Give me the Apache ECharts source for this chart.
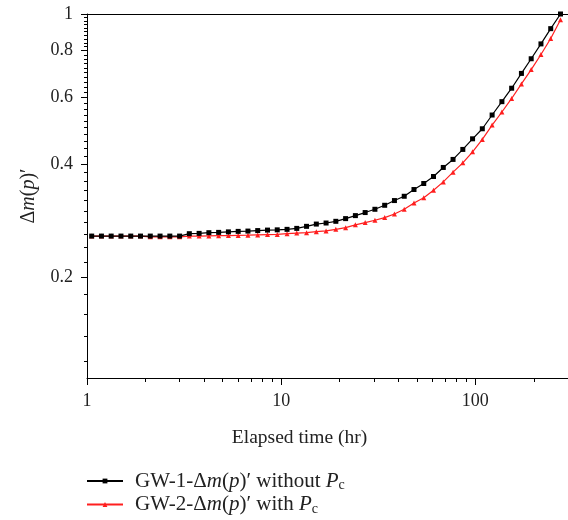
<!DOCTYPE html>
<html><head><meta charset="utf-8">
<script src="https://cdn.jsdelivr.net/npm/echarts@6/dist/echarts.min.js"></script>
<style>html,body{margin:0;padding:0;background:#fff}#c{width:568px;height:520px}</style>
</head><body><div id="c"></div>
<script>
const times = [1.057,1.187,1.332,1.496,1.680,1.886,2.118,2.378,2.670,2.998,
  3.365,3.779,4.243,4.764,5.349,6.006,6.743,7.571,8.501,9.544,
  10.72,12.03,13.51,15.17,17.03,19.12,21.47,24.11,27.07,30.39,
  34.12,38.31,43.02,48.30,54.23,60.89,68.37,76.76,86.19,96.76,
  108.6,122.0,137.0,153.8,172.7,193.9,217.7,244.4,274.5];
const gw1 = [0.2572,0.2572,0.2572,0.2572,0.2572,0.2572,0.2572,0.2572,0.2572,0.2572,
  0.2610,0.2615,0.2626,0.2631,0.2639,0.2647,0.2652,0.2660,0.2668,0.2672,
  0.2680,0.2696,0.2730,0.2768,0.2786,0.2815,0.2862,0.2915,0.2970,0.3030,
  0.3105,0.3196,0.3281,0.3419,0.3547,0.3703,0.3913,0.4110,0.4369,0.4662,
  0.4957,0.5392,0.5851,0.6352,0.6954,0.7606,0.8329,0.9143,1.0];
const gw2 = [0.2572,0.2572,0.2572,0.2572,0.2572,0.2572,0.2560,0.2560,0.2560,0.2560,
  0.2572,0.2572,0.2575,0.2578,0.2580,0.2583,0.2586,0.2591,0.2596,0.2599,
  0.2610,0.2620,0.2626,0.2642,0.2655,0.2680,0.2708,0.2755,0.2793,0.2833,
  0.2880,0.2944,0.3030,0.3149,0.3251,0.3404,0.3582,0.3802,0.4025,0.4305,
  0.4645,0.5071,0.5492,0.5966,0.6520,0.7118,0.7806,0.8610,0.9650];
const yMajorTicks = [0.2,0.4,0.6,0.8,1];
const yMinorTicks = [0.12,0.14,0.16,0.18,0.22,0.24,0.26,0.28,0.30,0.32,0.34,0.36,0.38,
  0.42,0.44,0.46,0.48,0.50,0.52,0.54,0.56,0.58,0.62,0.64,0.66,0.68,0.70,0.72,0.74,0.76,0.78,
  0.82,0.84,0.86,0.88,0.90,0.92,0.94,0.96,0.98];
const xMajorTicks = [1,10,100];
const xMinorTicks = [2,3,4,5,6,7,8,9,20,30,40,50,60,70,80,90,200];
const seriesNames = ['GW-1-Δm(p)′ without Pc','GW-2-Δm(p)′ with Pc'];
const legendLabels = ['GW-1-Δ{it|m}({it|p})′ without {it|P}{sub|c}','GW-2-Δ{it|m}({it|p})′ with {it|P}{sub|c}'];
const xName = 'Elapsed time (hr)';
const yName = 'Δ{it|m}({it|p})′';

const FONT = '"Liberation Serif","DejaVu Serif",serif';
const FS = 18;
const LFS = 21;
const mkRich = (fs, sub, pad) => ({
  it: {fontFamily: FONT, fontSize: fs, fontStyle: 'italic', color: '#222'},
  sub: {fontFamily: FONT, fontSize: sub, color: '#222', padding: [pad, 0, 0, 0]}
});
const fmt = v => String(+(+v).toPrecision(3));

const chart = echarts.init(document.getElementById('c'), null, {renderer: 'canvas'});
const xBase = {type: 'log', min: 1, max: 300, splitLine: {show: false}};
const yBase = {type: 'log', min: 0.108, max: 1, splitLine: {show: false}};
chart.setOption({
  animation: false,
  backgroundColor: '#fff',
  grid: {left: 87, top: 14, width: 484, height: 364},
  xAxis: [
    Object.assign({}, xBase, {
      position: 'bottom',
      axisLine: {show: true, onZero: false, lineStyle: {color: '#000', width: 1}},
      axisTick: {show: true, interval: 0, length: 7, customValues: xMajorTicks, lineStyle: {color: '#000', width: 1}},
      axisLabel: {show: true, customValues: xMajorTicks, formatter: fmt, margin: 14, color: '#222', fontFamily: FONT, fontSize: FS},
      name: xName, nameLocation: 'middle', nameGap: 50,
      nameTextStyle: {fontFamily: FONT, fontSize: 19.5, color: '#222', padding: [0, 56, 0, 0]}
    }),
    Object.assign({}, xBase, {
      position: 'top',
      axisLine: {show: true, onZero: false, lineStyle: {color: '#000', width: 1}},
      axisTick: {show: false},
      axisLabel: {show: false}
    }),
    Object.assign({}, xBase, {
      position: 'bottom',
      axisLine: {show: false, onZero: false},
      axisTick: {show: true, interval: 0, length: 4, customValues: xMinorTicks, lineStyle: {color: '#000', width: 1}},
      axisLabel: {show: false}
    })
  ],
  yAxis: [
    Object.assign({}, yBase, {
      position: 'left',
      axisLine: {show: true, onZero: false, lineStyle: {color: '#000', width: 1}},
      axisTick: {show: true, interval: 0, length: 6, customValues: yMajorTicks, lineStyle: {color: '#000', width: 1}},
      axisLabel: {show: true, customValues: yMajorTicks, formatter: fmt, margin: 14, color: '#222', fontFamily: FONT, fontSize: FS},
      name: yName, nameLocation: 'middle', nameRotate: 90, nameGap: 48,
      nameTextStyle: {fontFamily: FONT, fontSize: 20, color: '#222', rich: mkRich(20, 13, 8)}
    })
  ],
  legend: {
    orient: 'vertical', left: 86, top: 470, padding: 0, itemWidth: 36, itemHeight: 6, itemGap: 1,
    data: seriesNames,
    formatter: name => legendLabels[seriesNames.indexOf(name)],
    textStyle: {fontFamily: FONT, fontSize: LFS, color: '#222', lineHeight: 22, padding: [0, 0, 0, 7], rich: mkRich(LFS, 14, 9)}
  },
  series: [
    {
      name: seriesNames[0], type: 'line', xAxisIndex: 0, yAxisIndex: 0,
      data: times.map((t, i) => [t, gw1[i]]),
      symbol: 'rect', symbolSize: 5, showSymbol: true,
      lineStyle: {color: '#000', width: 1.2}, itemStyle: {color: '#000'}, z: 3
    },
    {
      name: seriesNames[1], type: 'line', xAxisIndex: 0, yAxisIndex: 0,
      data: times.map((t, i) => [t, gw2[i]]),
      symbol: 'triangle', symbolSize: 5, showSymbol: true,
      lineStyle: {color: '#ff1f1f', width: 1.2}, itemStyle: {color: '#ff1f1f'}, z: 2
    },
    {
      name: 'yMinorTicks', type: 'custom', xAxisIndex: 0, yAxisIndex: 0,
      clip: false, silent: true, z: 5,
      data: yMinorTicks.map(v => [xMajorTicks[0], v]),
      encode: {x: 0, y: 1},
      renderItem: (params, api) => {
        const p = api.coord([api.value(0), api.value(1)]);
        const y = Math.round(p[1]) + 0.5;
        const x = Math.round(p[0]) + 0.5;
        return {type: 'line', shape: {x1: x - 3.5, y1: y, x2: x, y2: y}, style: {stroke: '#000', lineWidth: 1}};
      }
    }
  ]
});
</script></body></html>
